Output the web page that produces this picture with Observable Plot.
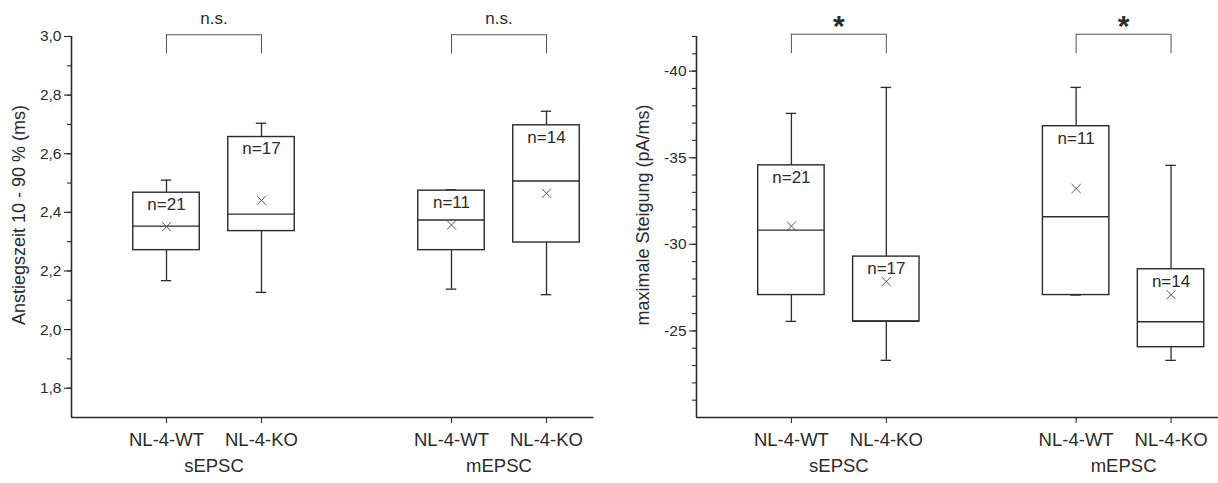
<!DOCTYPE html>
<html>
<head>
<meta charset="utf-8">
<script src="https://cdn.jsdelivr.net/npm/d3@7"></script>
<script src="https://cdn.jsdelivr.net/npm/@observablehq/plot@0.6"></script>
<style>
  html, body { margin: 0; padding: 0; background: #fff; }
  #wrap { position: relative; width: 1218px; height: 483px; overflow: hidden; }
  #left, #right { position: absolute; top: 0; }
  #left { left: 0; }
  #right { left: 609px; }
</style>
</head>
<body>
<div id="wrap"><div id="left"></div><div id="right"></div></div>
<script>
// ---------- data ----------
const positions = [1, 2, 4, 5];
const genotypeLabels = ["NL-4-WT", "NL-4-KO", "NL-4-WT", "NL-4-KO"];
const nLabels = ["n=21", "n=17", "n=11", "n=14"];
const groupNames = ["sEPSC", "mEPSC"];
const groupPositions = [1.5, 4.5];
const bracketFrom = [1, 4];
const bracketTo = [2, 5];

// Left panel: Anstiegszeit 10 - 90 % (ms)
const riseBoxLow   = [2.271, 2.336, 2.271, 2.297];
const riseMedian   = [2.353, 2.394, 2.374, 2.507];
const riseBoxHigh  = [2.467, 2.657, 2.474, 2.697];
const riseWhiskLow = [2.167, 2.127, 2.138, 2.119];
const riseWhiskHigh= [2.510, 2.704, 2.477, 2.745];
const riseMean     = [2.351, 2.441, 2.357, 2.465];
const riseTicks = [1.8, 2.0, 2.2, 2.4, 2.6, 2.8, 3.0];
const riseMinorTicks = [1.8, 1.9, 2.0, 2.1, 2.2, 2.3, 2.4, 2.5, 2.6, 2.7, 2.8, 2.9, 3.0];
const riseSignif = ["n.s.", "n.s."];

// Right panel: maximale Steigung (pA/ms)
const slopeBoxLow   = [-27.07, -25.55, -27.07, -24.06];
const slopeMedian   = [-30.82, -25.55, -31.59, -25.53];
const slopeBoxHigh  = [-34.56, -29.29, -36.82, -28.56];
const slopeWhiskLow = [-25.55, -23.30, -27.07, -23.30];
const slopeWhiskHigh= [-37.56, -39.06, -39.06, -34.56];
const slopeMean     = [-31.05, -27.85, -33.22, -27.09];
const slopeTicks = [-40, -35, -30, -25];
const slopeMinorTicks = [-42,-41,-40,-39,-38,-37,-36,-35,-34,-33,-32,-31,-30,-29,-28,-27,-26,-25,-24,-23,-22,-21];
const slopeSignif = ["*", "*"];

// ---------- drawing ----------
const FONT = "'Liberation Sans', Arial, Helvetica, sans-serif";
const INK = "#2b2b2b";
const HALF = 0.35;   // half box width (x units)
const CAP = 0.055;   // half whisker cap width

function panel(opts) {
  const {
    yDomain, boxLow, median, boxHigh, whiskLow, whiskHigh, mean,
    ticks, minorTicks, tickFormat, yTitle, marginLeft, marginRight, titleDx,
    signif, bracketTop, bracketLeg, signifY, signifStyle
  } = opts;
  const idx = positions.map((_, i) => i);
  const labelByPos = new Map(positions.map((p, i) => [p, genotypeLabels[i]]));
  const legs = [];
  bracketFrom.forEach((f, i) => { legs.push(f, bracketTo[i]); });

  return Plot.plot({
    width: 609,
    height: 483,
    marginLeft, marginRight,
    marginTop: 36,
    marginBottom: 66,
    x: {domain: [0, 5.5]},
    y: {domain: yDomain},
    style: {fontFamily: FONT, fontSize: "15px", color: INK, background: "white", overflow: "visible"},
    marks: [
      Plot.axisY({ticks: minorTicks, tickFormat: () => "", tickSize: 4, label: null, stroke: INK, strokeWidth: 1.1}),
      Plot.axisY({ticks, tickFormat, tickSize: 7, tickPadding: 3, label: null, fontSize: 15.5, stroke: INK, strokeWidth: 1.1, fill: INK}),
      Plot.axisX({ticks: positions, tickFormat: d => labelByPos.get(d), tickSize: 6, tickPadding: 9, label: null, fontSize: 18.5, stroke: INK, strokeWidth: 1.1, fill: INK}),
      Plot.ruleX([0], {stroke: INK, strokeWidth: 1.6}),
      Plot.ruleY([yDomain[0]], {stroke: INK, strokeWidth: 1.6}),
      // group labels
      Plot.text(groupNames, {x: (d, i) => groupPositions[i], text: d => d, frameAnchor: "bottom", dy: 54, fontSize: 18.5, fill: INK}),
      // axis title
      Plot.text([yTitle], {text: d => d, frameAnchor: "left", textAnchor: "middle", rotate: -90, dx: titleDx, dy: -12, fontSize: 18, fill: INK}),
      // whiskers
      Plot.ruleX(idx, {x: i => positions[i], y1: i => whiskHigh[i], y2: i => boxHigh[i], stroke: INK, strokeWidth: 1.3}),
      Plot.ruleX(idx, {x: i => positions[i], y1: i => boxLow[i], y2: i => whiskLow[i], stroke: INK, strokeWidth: 1.3}),
      Plot.ruleY(idx, {x1: i => positions[i] - CAP, x2: i => positions[i] + CAP, y: i => whiskHigh[i], stroke: INK, strokeWidth: 1.3}),
      Plot.ruleY(idx, {x1: i => positions[i] - CAP, x2: i => positions[i] + CAP, y: i => whiskLow[i], stroke: INK, strokeWidth: 1.3}),
      // boxes
      Plot.rect(idx, {x1: i => positions[i] - HALF, x2: i => positions[i] + HALF, y1: i => boxLow[i], y2: i => boxHigh[i], fill: "white", stroke: INK, strokeWidth: 1.4}),
      Plot.ruleY(idx, {x1: i => positions[i] - HALF, x2: i => positions[i] + HALF, y: i => median[i], stroke: INK, strokeWidth: 1.4}),
      // means
      Plot.dot(idx, {x: i => positions[i], y: i => mean[i], symbol: "times", r: 4.2, stroke: "#555", strokeWidth: 1}),
      // n labels
      Plot.text(idx, {x: i => positions[i], y: i => boxHigh[i], text: i => nLabels[i], dy: 12, fontSize: 17, fill: INK}),
      // significance brackets
      Plot.ruleY(bracketFrom, {x1: d => d, x2: (d, i) => bracketTo[i], y: bracketTop, stroke: "#555", strokeWidth: 1}),
      Plot.ruleX(legs, {x: d => d, y1: bracketTop, y2: bracketLeg, stroke: "#555", strokeWidth: 1}),
      Plot.text(signif, {x: (d, i) => (bracketFrom[i] + bracketTo[i]) / 2, y: signifY, text: d => d, fill: INK, ...signifStyle})
    ]
  });
}

const left = panel({
  yDomain: [1.7, 3.0],
  boxLow: riseBoxLow, median: riseMedian, boxHigh: riseBoxHigh,
  whiskLow: riseWhiskLow, whiskHigh: riseWhiskHigh, mean: riseMean,
  ticks: riseTicks, minorTicks: riseMinorTicks,
  tickFormat: d => d.toFixed(1).replace(".", ","),
  yTitle: "Anstiegszeit 10 - 90 % (ms)",
  marginLeft: 71, marginRight: 15.5, titleDx: -52,
  signif: riseSignif, bracketTop: 3.006, bracketLeg: 2.941, signifY: 3.061,
  signifStyle: {fontSize: 17}
});
document.getElementById("left").appendChild(left);

const right = panel({
  yDomain: [-20, -42],
  boxLow: slopeBoxLow, median: slopeMedian, boxHigh: slopeBoxHigh,
  whiskLow: slopeWhiskLow, whiskHigh: slopeWhiskHigh, mean: slopeMean,
  ticks: slopeTicks, minorTicks: slopeMinorTicks,
  tickFormat: d => String(d),
  yTitle: "maximale Steigung (pA/ms)",
  marginLeft: 87, marginRight: 0, titleDx: -53,
  signif: slopeSignif, bracketTop: -42.13, bracketLeg: -41.01, signifY: -42.6,
  signifStyle: {fontSize: 30, fontWeight: "bold"}
});
document.getElementById("right").appendChild(right);
</script>
</body>
</html>
